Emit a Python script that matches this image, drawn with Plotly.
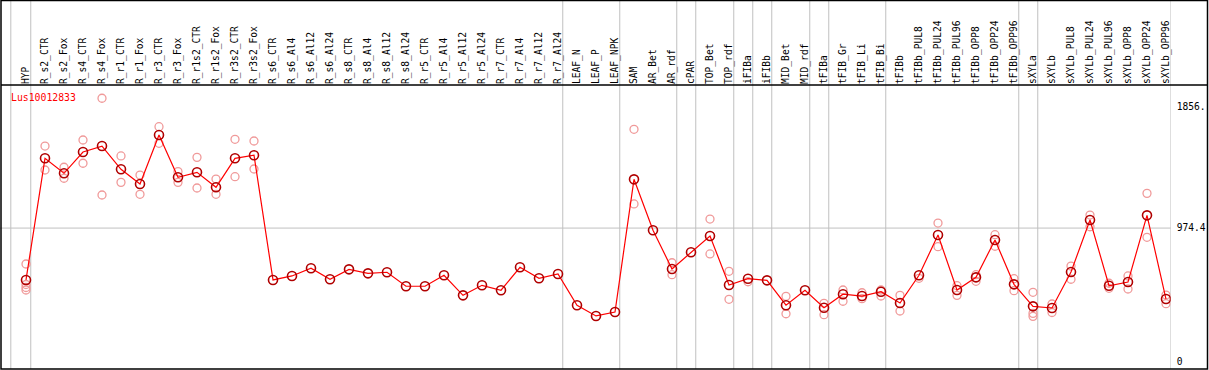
import plotly.graph_objects as go

categories = ["HYP", "R_s2_CTR", "R_s2_Fox", "R_s4_CTR", "R_s4_Fox", "R_r1_CTR", "R_r1_Fox",
              "R_r3_CTR", "R_r3_Fox", "R_r1s2_CTR", "R_r1s2_Fox", "R_r3s2_CTR", "R_r3s2_Fox",
              "R_s6_CTR", "R_s6_Al4", "R_s6_Al12", "R_s6_Al24", "R_s8_CTR", "R_s8_Al4", "R_s8_Al12",
              "R_s8_Al24", "R_r5_CTR", "R_r5_Al4", "R_r5_Al12", "R_r5_Al24", "R_r7_CTR", "R_r7_Al4",
              "R_r7_Al12", "R_r7_Al24", "LEAF_N", "LEAF_P", "LEAF_NPK", "SAM", "AR_Bet", "AR_rdf",
              "cPAR", "TOP_Bet", "TOP_rdf", "iFIBa", "iFIBb", "MID_Bet", "MID_rdf", "tFIBa",
              "tFIB_Gr", "tFIB_Li", "tFIB_Bi", "tFIBb", "tFIBb_PUL8", "tFIBb_PUL24", "tFIBb_PUL96",
              "tFIBb_OPP8", "tFIBb_OPP24", "tFIBb_OPP96", "sXYLa", "sXYLb", "sXYLb_PUL8",
              "sXYLb_PUL24", "sXYLb_PUL96", "sXYLb_OPP8", "sXYLb_OPP24", "sXYLb_OPP96"]

mean_values = [597, 1482, 1373, 1528, 1571, 1402, 1295, 1652, 1344, 1380, 1271, 1482, 1504,
               597, 626, 682, 602, 674, 645, 653, 551, 551, 631, 485, 558, 522, 689, 609, 640,
               413, 335, 364, 1329, 958, 677, 798, 917, 560, 606, 594, 413, 522, 395,
               493, 480, 511, 429, 631, 924, 524, 616, 888, 565, 405, 393, 655,
               1033, 555, 582, 1067, 458]

rep_a = [713, 1571, 1417, 1615, 1919, 1499, 1360, 1712, 1385, 1489, 1331, 1620, 1608,
         None, None, None, None, None, None, None, None, None, None, None, None, None, None, None, None,
         None, None, None, 1693, None, 722, None, 1040, 660, 584, None, 478, None, 427,
         524, 504, 524, 485, 609, 1011, 555, 635, 926, 606, 507, 422, 698,
         1069, 573, 626, 1227, 487]
rep_b = [564, 1397, 1337, 1446, 1215, 1307, 1220, 1591, 1307, 1266, 1220, 1348, 1404,
         None, None, None, None, None, None, None, None, None, None, None, None, None, None, None, None,
         None, None, None, 1150, None, 635, None, 786, 456, None, None, 351, None, 344,
         442, 461, 480, 371, None, 839, 485, 587, 842, 519, 354, 360, 602,
         984, 536, 531, 907, 424]
rep_c = [542, None, None, None, None, None, None, None, None, None, None, None, None,
         None, None, None, None, None, None, None, None, None, None, None, None, None, None, None, None,
         None, None, None, None, None, None, None, None, None, None, None, None, None, None,
         None, None, None, None, None, None, None, None, None, None, 332, None, None,
         None, None, None, None, None]
rep_d = [524] + [None] * 60

group_last = ["HYP", "R_r7_Al24", "LEAF_NPK", "AR_rdf", "cPAR", "TOP_rdf", "iFIBa", "iFIBb",
              "MID_rdf", "tFIBa", "tFIB_Bi", "tFIBb_OPP96", "sXYLa", "sXYLb_OPP96"]

y_tick_values = [0, 974.4, 1856]
y_tick_labels = ["0", "974.4", "1856."]
gene_name = "Lus10012833"

W, H = 1209, 370
MONO = "DejaVu Sans Mono"

def px_x(p):
    return p / W

def px_y(p):
    return (H - p) / H

fig = go.Figure()

rep_x, rep_y = [], []
for reps in (rep_a, rep_b, rep_c, rep_d):
    for c, v in zip(categories, reps):
        if v is not None:
            rep_x.append(c)
            rep_y.append(v)

fig.add_trace(go.Scatter(
    x=rep_x, y=rep_y, mode="markers",
    marker=dict(symbol="circle-open", size=8, color="#f09a9a", line=dict(width=1.3)),
    hoverinfo="skip", showlegend=False))

fig.add_trace(go.Scatter(
    x=categories, y=mean_values, mode="lines+markers",
    line=dict(color="#ff0000", width=1.2),
    marker=dict(symbol="circle-open", size=9, color="#b00000", line=dict(width=1.6)),
    showlegend=False))

shapes = []
for idx in [-1] + [categories.index(c) for c in group_last]:
    pos = idx + 0.25 if idx >= 0 else -0.8
    shapes.append(dict(type="line", xref="x", yref="paper", x0=pos, x1=pos,
                       y0=px_y(369), y1=1, line=dict(color="#c0c0c0", width=1), layer="below"))
shapes.append(dict(type="line", xref="x domain", yref="y", x0=0, x1=1, y0=974.4, y1=974.4,
                   line=dict(color="#c0c0c0", width=1), layer="below"))
# frame and header separator
shapes.append(dict(type="rect", xref="paper", yref="paper", x0=px_x(1), x1=px_x(1207.5),
                   y0=px_y(369), y1=px_y(0.5), line=dict(color="black", width=1.5)))
shapes.append(dict(type="line", xref="paper", yref="paper", x0=px_x(1), x1=px_x(1207.5),
                   y0=px_y(85), y1=px_y(85), line=dict(color="black", width=1.5)))

fig.update_layout(
    width=W, height=H, margin=dict(l=0, r=0, t=0, b=0),
    paper_bgcolor="white", plot_bgcolor="white",
    shapes=shapes,
    xaxis=dict(type="category", categoryorder="array", categoryarray=categories,
               domain=[0, 1170.7 / W], range=[-26 / 19, (1170.7 - 26) / 19],
               side="top", tickangle=-90, ticks="", showgrid=False, showline=False,
               zeroline=False, tickfont=dict(family=MONO, size=9.6, color="black")),
    yaxis=dict(domain=[px_y(369), px_y(85)], range=[(362 - 369) / 0.13745, (362 - 85) / 0.13745],
               side="right", tickvals=y_tick_values, ticktext=y_tick_labels, ticks="",
               showgrid=False, showline=False, zeroline=False, ticklabelstandoff=5,
               tickfont=dict(family=MONO, size=9.6, color="black")),
    annotations=[dict(text=gene_name, xref="paper", yref="paper", x=px_x(9), y=px_y(97),
                      xanchor="left", yanchor="middle", showarrow=False,
                      font=dict(family=MONO, size=9.8, color="#ff0000"))],
)

fig.write_html("out.html", config={"displayModeBar": False},
               post_script="document.body.style.margin='0';document.body.style.overflow='hidden';")
